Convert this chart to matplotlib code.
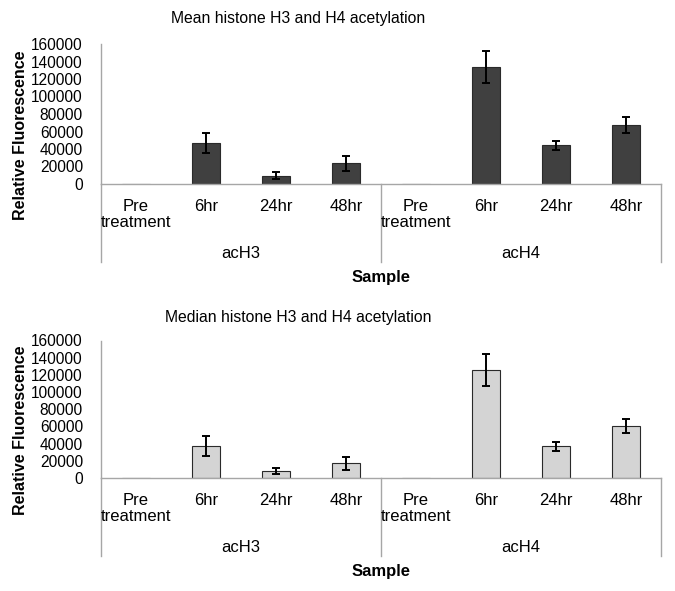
import numpy as np
import matplotlib.pyplot as plt

plt.rcParams['font.family'] = ['Liberation Sans', 'DejaVu Sans']

# Data
groups = ["acH3", "acH4"]
timepoints = ["Pre\ntreatment", "6hr", "24hr", "48hr"]

mean_vals = [0, 47200, 9500, 23600, 0, 133300, 44200, 67400]
mean_err = [0, 11500, 4000, 8800, 0, 18300, 5200, 8800]

median_vals = [0, 36700, 8500, 17000, 0, 125600, 36700, 60800]
median_err = [0, 11600, 3700, 7300, 0, 18600, 5600, 8100]

titles = ["Mean histone H3 and H4 acetylation", "Median histone H3 and H4 acetylation"]
bar_colors = ["#404040", "#d4d4d4"]
axis_gray = "#a6a6a6"

fig = plt.figure(figsize=(6.75, 5.91), dpi=100)
W, H = 675, 591


def add_panel(rect, vals, errs, title, color, title_y, bottom_px):
    ax = fig.add_axes(rect)
    x = np.arange(len(vals))
    vals = np.array(vals)
    errs = np.array(errs)
    ax.bar(x, vals, width=0.41, color=color, edgecolor="#2a2a2a", linewidth=0.8, zorder=2)
    has = vals > 0
    ax.errorbar(x[has], vals[has], yerr=errs[has], fmt="none", ecolor="black",
                elinewidth=1.4, capsize=3, capthick=1.4, zorder=3)
    ax.set_xlim(-0.5, len(vals) - 0.5)
    ax.set_ylim(0, 160000)
    ticks = np.arange(0, 160001, 20000)
    ax.set_yticks(ticks)
    ax.set_yticklabels([str(v) for v in ticks], fontsize=11.2)
    ax.tick_params(axis="y", length=0, pad=13)
    ax.set_xticks([])
    for s in ["top", "right"]:
        ax.spines[s].set_visible(False)
    for s in ["left", "bottom"]:
        ax.spines[s].set_color(axis_gray)
        ax.spines[s].set_linewidth(1.0)
    ax.set_ylabel("Relative Fluorescence", fontsize=11.5, fontweight="bold")
    ax.yaxis.set_label_coords(-0.13, 0.35)

    # category labels under the axis
    labels = timepoints * len(groups)
    for i, lab in enumerate(labels):
        ax.annotate(lab, xy=(i, 0), xycoords=("data", "axes fraction"),
                    xytext=(0, -10.5), textcoords="offset points",
                    ha="center", va="top", fontsize=12, linespacing=1.1)
    # group labels
    n = len(timepoints)
    for g, name in enumerate(groups):
        ax.annotate(name, xy=(g * n + (n - 1) / 2, 0), xycoords=("data", "axes fraction"),
                    xytext=(0, -50), textcoords="offset points",
                    ha="center", va="center", fontsize=12)
    ax.annotate("Sample", xy=(0.5, 0), xycoords="axes fraction",
                xytext=(0, -67), textcoords="offset points",
                ha="center", va="center", fontsize=12, fontweight="bold")
    fig.text(298 / W, 1 - title_y / H, title, ha="center", va="center", fontsize=11.3)

    # group divider lines from the axis down
    for xd in [-0.5, n - 0.5, 2 * n - 0.5]:
        ax.plot([xd, xd], [0, -(bottom_px - (1 - rect[1]) * H) / (rect[3] * H)],
                color=axis_gray, lw=1.0, transform=ax.get_xaxis_transform(),
                clip_on=False)
    return ax


ax1 = add_panel([101 / W, 1 - 184 / H, 560 / W, 140 / H], mean_vals, mean_err,
                titles[0], bar_colors[0], 18, 262)
ax2 = add_panel([101 / W, 1 - 478 / H, 560 / W, 137.5 / H], median_vals, median_err,
                titles[1], bar_colors[1], 318, 556)

fig.savefig("out.png", dpi=100)
